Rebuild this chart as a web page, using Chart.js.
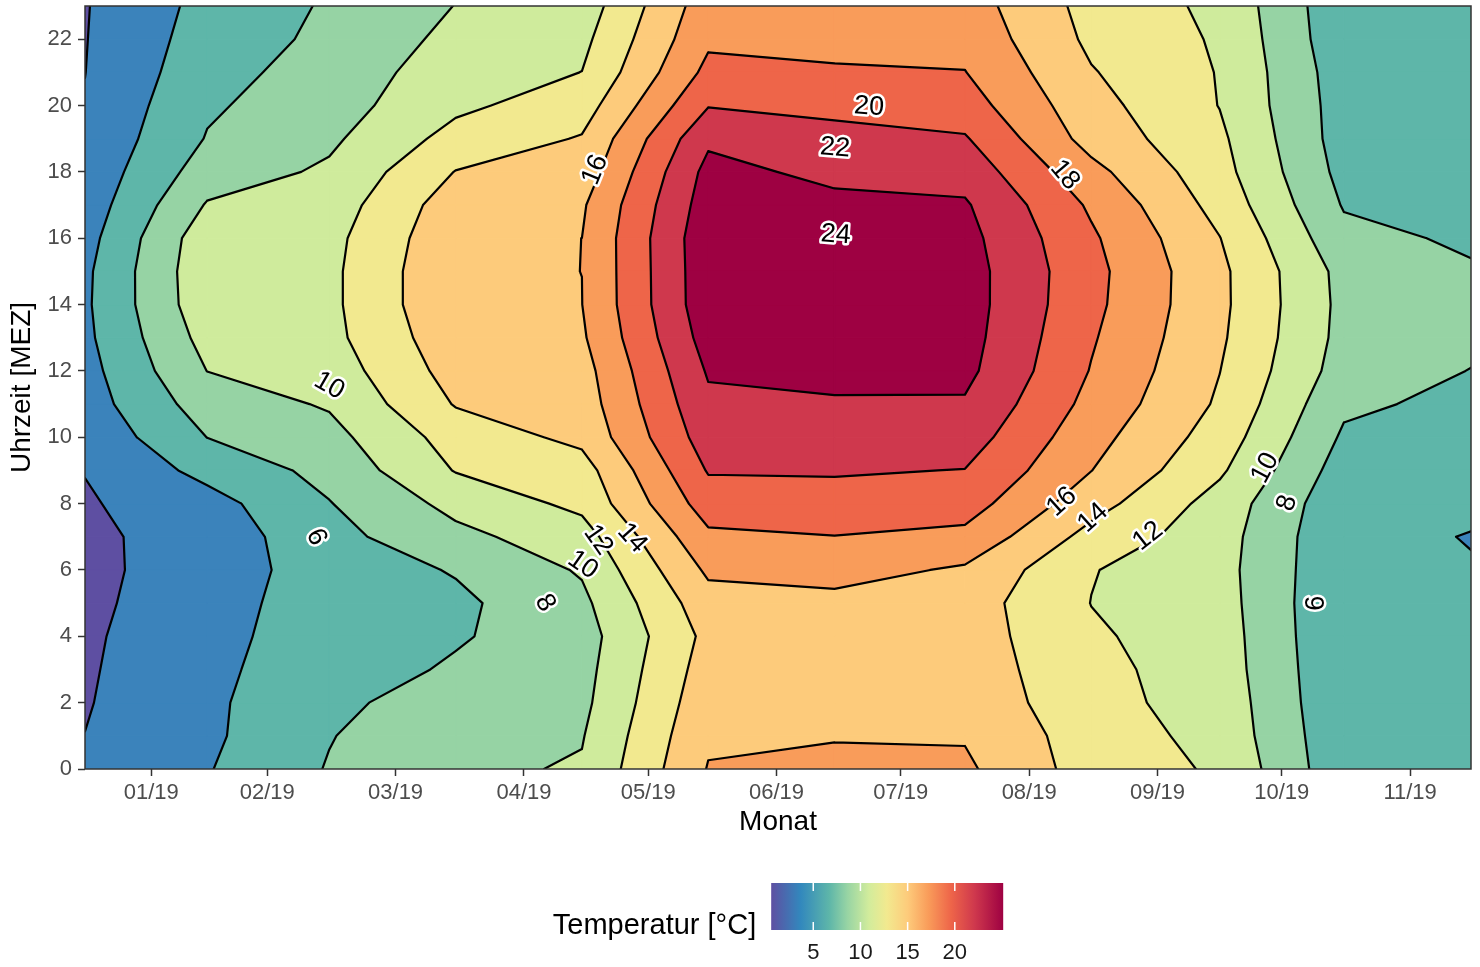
<!DOCTYPE html>
<html>
<head>
<meta charset="utf-8">
<script src="https://cdn.jsdelivr.net/npm/chart.js@4/dist/chart.umd.min.js"></script>
<style>
html,body{margin:0;padding:0;background:#ffffff;}
canvas{display:block;}
</style>
</head>
<body>
<canvas id="chart" width="1480" height="967"></canvas>
<script>
// ---------- DATA ----------
// x position of each monthly column, in days since 2019-01-01 (mid-month)
const monthDays = [-16, 13.5, 43, 73.5, 104, 134.5, 165, 196.5, 227, 258, 288, 318.7];
const hoursOfDay = [0,1,2,3,4,5,6,7,8,9,10,11,12,13,14,15,16,17,18,19,20,21,22,23];

// mean temperature (°C) per hour of day, one array per month
const tDec18 = [4.40,4.02,3.87,3.77,3.66,3.47,3.49,3.64,3.80,4.06,4.51,5.08,5.30,5.58,5.69,5.62,5.27,4.87,4.61,4.37,4.10,3.98,3.93,3.89];
const tJan19 = [5.88,5.63,5.64,5.61,5.59,5.50,5.05,4.78,5.25,6.60,8.02,8.96,10.02,10.70,11.31,11.43,11.23,10.16,8.96,8.11,7.74,7.25,6.89,6.60];
const tFeb19 = [8.13,7.91,7.54,7.00,6.69,6.62,6.85,7.36,7.92,8.60,9.36,10.20,10.92,11.44,11.55,11.55,11.41,10.93,10.31,9.64,9.12,8.89,8.44,8.22];
const tMar19 = [9.58,9.50,9.00,8.25,7.80,7.58,8.15,9.48,10.57,12.10,12.84,14.13,14.80,15.30,15.76,15.76,15.49,15.07,14.06,12.69,11.59,10.98,10.51,10.04];
const tApr19 = [10.18,9.88,9.53,9.34,9.14,9.55,10.20,11.11,12.50,13.15,14.50,14.98,15.25,15.74,15.98,16.004,16.003,15.75,14.90,14.15,13.05,12.02,11.49,10.92];
const tMay19 = [16.10,15.72,15.31,14.91,14.53,15.20,16.35,17.60,19.00,20.15,21.00,21.60,22.20,22.84,23.30,23.33,23.40,23.00,22.60,21.64,19.90,18.53,17.65,17.10];
const tJun19 = [16.40,15.90,15.40,15.10,14.90,15.40,16.80,17.96,19.20,20.19,21.00,21.80,22.54,23.00,23.30,23.40,23.30,22.50,21.50,20.74,19.40,18.26,17.30,17.00];
const tJul19 = [16.34,15.85,15.42,15.10,14.97,14.92,15.71,17.50,18.90,19.95,20.96,21.80,22.50,22.74,22.86,22.84,22.63,22.22,21.25,20.18,18.90,18.05,17.40,16.94];
const tAug19 = [13.10,13.00,12.58,12.52,12.26,11.97,12.09,13.30,14.80,16.03,16.70,17.40,17.90,18.20,18.50,18.60,18.30,17.70,16.60,15.24,14.70,14.13,13.60,13.31];
const tSep19 = [11.75,11.38,11.24,11.04,10.96,10.83,10.71,10.85,11.20,12.31,13.10,13.73,14.03,14.30,14.45,14.44,14.05,13.30,12.71,12.38,11.95,11.90,11.77,11.56];
const tOct19 = [6.55,6.46,6.29,6.24,6.14,6.12,6.29,6.30,6.54,7.06,7.71,8.36,9.11,9.39,9.47,9.37,8.56,7.85,7.38,7.09,7.09,6.94,6.62,6.52];
const tNov19 = [6.60,6.50,6.40,6.35,6.30,6.20,6.06,5.96,6.20,6.70,7.30,7.50,7.95,8.45,8.50,8.20,7.70,7.30,7.10,6.90,6.80,6.70,6.60,6.50];

const contourLevels = [4,6,8,10,12,14,16,18,20,22];
const bandColors = ['#5E4FA2','#3B83BB','#5EB6A9','#96D3A4','#CFEB9C','#F2E98F','#FDCB7B','#F99C5A','#EE6549','#CF384D','#9E0142'];

const xTickDays = [0, 28, 59, 90, 120, 151, 181, 212, 243, 273, 304];
const xTickLabels = ['01/19','02/19','03/19','04/19','05/19','06/19','07/19','08/19','09/19','10/19','11/19'];
const yTickValues = [0,2,4,6,8,10,12,14,16,18,20,22];

// contour labels: text, data position (day, hour) and rotation (deg)
const labelTexts  = ['20','22','24','16','18','10','6','8','12','10','14','16','14','12','10','8','6'];
const labelDays   = [173.3,165.1,165.3,107.2,220.6,43.0,39.8,95.1,107.9,104.2,116.1,219.9,227.4,240.7,269.0,274.3,281.5];
const labelHours  = [19.96,18.72,16.10,18.06,17.91,11.55,6.99,5.00,6.90,6.15,6.96,8.05,7.57,7.02,9.07,8.02,5.00];
const labelAngles = [4,4,4,-68,50,30,65,60,55,35,48,-42,-42,-38,-62,-72,-90];

// colour bar
const legendRange = [0.54, 25.13];
const legendTicks = [5,10,15,20];
const legendStopValues = [0.54,3.67,6.7,8.6,10.9,12.8,15.0,17.2,19.6,22.1,25.13];
const legendStopColors = ['#5E4FA2','#3288BD','#5EB6A9','#97D4A4','#D2EC9C','#F2E98F','#FDCB7B','#F99C5A','#EE6549','#CF384D','#9E0142'];

const FONT = '"Liberation Sans", Arial, Helvetica, sans-serif';

// ---------- CONTOUR HELPERS ----------
const columns = [tDec18,tJan19,tFeb19,tMar19,tApr19,tMay19,tJun19,tJul19,tAug19,tSep19,tOct19,tNov19];

function bandPolygon(c, lo, hi) {
  const out = [];
  for (let k = 0; k < 4; k++) {
    const p = c[k], q = c[(k + 1) % 4];
    if (p[2] >= lo && p[2] <= hi) out.push([p[0], p[1]]);
    const ts = [];
    for (const L of [lo, hi]) {
      if (!isFinite(L)) continue;
      if ((p[2] - L) * (q[2] - L) < 0) ts.push((L - p[2]) / (q[2] - p[2]));
    }
    ts.sort((a, b) => a - b);
    for (const t of ts) out.push([p[0] + t * (q[0] - p[0]), p[1] + t * (q[1] - p[1])]);
  }
  return out;
}

function levelSegments(c, L) {
  const pts = [];
  for (let k = 0; k < 4; k++) {
    const p = c[k], q = c[(k + 1) % 4];
    if ((p[2] - L) * (q[2] - L) < 0) {
      const t = (L - p[2]) / (q[2] - p[2]);
      pts.push([p[0] + t * (q[0] - p[0]), p[1] + t * (q[1] - p[1])]);
    }
  }
  if (pts.length === 2) return [[pts[0], pts[1]]];
  if (pts.length === 4) {
    const center = (c[0][2] + c[1][2] + c[2][2] + c[3][2]) / 4;
    if ((c[0][2] > L) === (center > L)) return [[pts[0], pts[1]], [pts[2], pts[3]]];
    return [[pts[3], pts[0]], [pts[1], pts[2]]];
  }
  return [];
}

const contourPlugin = {
  id: 'contourFill',
  beforeDatasetsDraw(chart) {
    const { ctx, chartArea: a, scales } = chart;
    const xs = scales.x, ys = scales.y;
    const px = monthDays.map(d => xs.getPixelForValue(d));
    const py = hoursOfDay.map(h => ys.getPixelForValue(h));
    const bounds = [-Infinity, ...contourLevels, Infinity];
    ctx.save();
    ctx.beginPath();
    ctx.rect(a.left, a.top, a.right - a.left, a.bottom - a.top);
    ctx.clip();
    ctx.lineJoin = 'round';
    const cells = [];
    for (let i = 0; i < px.length - 1; i++) {
      for (let j = 0; j < py.length - 1; j++) {
        cells.push([
          [px[i], py[j], columns[i][j]],
          [px[i + 1], py[j], columns[i + 1][j]],
          [px[i + 1], py[j + 1], columns[i + 1][j + 1]],
          [px[i], py[j + 1], columns[i][j + 1]]
        ]);
      }
    }
    for (const c of cells) {
      for (let b = 0; b < bandColors.length; b++) {
        const poly = bandPolygon(c, bounds[b], bounds[b + 1]);
        if (poly.length < 3) continue;
        ctx.beginPath();
        ctx.moveTo(poly[0][0], poly[0][1]);
        for (let k = 1; k < poly.length; k++) ctx.lineTo(poly[k][0], poly[k][1]);
        ctx.closePath();
        ctx.fillStyle = bandColors[b];
        ctx.strokeStyle = bandColors[b];
        ctx.lineWidth = 1.2;
        ctx.fill();
        ctx.stroke();
      }
    }
    ctx.strokeStyle = '#000000';
    ctx.lineWidth = 2.2;
    ctx.lineCap = 'round';
    ctx.beginPath();
    for (const c of cells) {
      for (const L of contourLevels) {
        for (const s of levelSegments(c, L)) {
          ctx.moveTo(s[0][0], s[0][1]);
          ctx.lineTo(s[1][0], s[1][1]);
        }
      }
    }
    ctx.stroke();
    // contour labels
    ctx.font = '27px ' + FONT;
    ctx.textAlign = 'center';
    ctx.textBaseline = 'middle';
    for (let k = 0; k < labelTexts.length; k++) {
      const lx = xs.getPixelForValue(labelDays[k]);
      const ly = ys.getPixelForValue(labelHours[k]);
      ctx.save();
      ctx.translate(lx, ly);
      ctx.rotate(labelAngles[k] * Math.PI / 180);
      ctx.lineWidth = 5;
      ctx.strokeStyle = '#ffffff';
      ctx.strokeText(labelTexts[k], 0, 0);
      ctx.fillStyle = '#000000';
      ctx.fillText(labelTexts[k], 0, 0);
      ctx.restore();
    }
    ctx.restore();
  },
  afterDraw(chart) {
    const { ctx, chartArea: a } = chart;
    ctx.save();
    // panel border
    ctx.strokeStyle = '#333333';
    ctx.lineWidth = 1.5;
    ctx.strokeRect(a.left, a.top, a.right - a.left, a.bottom - a.top);
    // colour bar legend
    const title = 'Temperatur [°C]';
    ctx.font = '29px ' + FONT;
    const titleW = ctx.measureText(title).width;
    const barW = 232, barH = 47, gap = 15;
    const total = titleW + gap + barW;
    const cx = (a.left + a.right) / 2;
    const x0 = cx - total / 2;
    const barX = x0 + titleW + gap;
    const barY = a.bottom + 114;
    ctx.fillStyle = '#000000';
    ctx.textAlign = 'left';
    ctx.textBaseline = 'middle';
    ctx.fillText(title, x0, barY + 43);
    const span = legendRange[1] - legendRange[0];
    const grad = ctx.createLinearGradient(barX, 0, barX + barW, 0);
    for (let k = 0; k < legendStopValues.length; k++) {
      grad.addColorStop(Math.min(1, Math.max(0, (legendStopValues[k] - legendRange[0]) / span)), legendStopColors[k]);
    }
    ctx.fillStyle = grad;
    ctx.fillRect(barX, barY, barW, barH);
    ctx.strokeStyle = '#ffffff';
    ctx.lineWidth = 1.5;
    ctx.font = '22px ' + FONT;
    ctx.textAlign = 'center';
    for (const v of legendTicks) {
      const tx = barX + (v - legendRange[0]) / span * barW;
      ctx.beginPath();
      ctx.moveTo(tx, barY); ctx.lineTo(tx, barY + 8);
      ctx.moveTo(tx, barY + barH - 8); ctx.lineTo(tx, barY + barH);
      ctx.stroke();
      ctx.fillStyle = '#1A1A1A';
      ctx.fillText(String(v), tx, barY + barH + 23);
    }
    ctx.restore();
  }
};

new Chart(document.getElementById('chart'), {
  type: 'scatter',
  data: { datasets: [{ data: [], pointRadius: 0 }] },
  options: {
    responsive: false,
    animation: false,
    layout: { padding: { left: 0, top: 6, right: 9, bottom: 128 } },
    plugins: { legend: { display: false }, tooltip: { enabled: false } },
    scales: {
      x: {
        type: 'linear',
        min: monthDays[0],
        max: monthDays[monthDays.length - 1],
        afterBuildTicks: s => { s.ticks = xTickDays.map(v => ({ value: v })); },
        afterFit: s => { s.height = 70; s.paddingLeft = 0; s.paddingRight = 0; },
        ticks: {
          autoSkip: false, maxRotation: 0, minRotation: 0, padding: 4,
          color: '#4D4D4D', font: { size: 22, family: FONT },
          callback: v => { const i = xTickDays.indexOf(v); return i >= 0 ? xTickLabels[i] : ''; }
        },
        grid: { drawOnChartArea: false, drawTicks: true, tickLength: 7, color: '#333333', tickWidth: 1.5 },
        border: { display: false },
        title: { display: true, text: 'Monat', color: '#000000', font: { size: 28, family: FONT }, padding: { top: 0, bottom: 0 } }
      },
      y: {
        type: 'linear',
        min: 0,
        max: 23,
        afterBuildTicks: s => { s.ticks = yTickValues.map(v => ({ value: v })); },
        afterFit: s => { s.width = 85; s.paddingTop = 0; s.paddingBottom = 0; },
        ticks: { padding: 6, color: '#4D4D4D', font: { size: 22, family: FONT } },
        grid: { drawOnChartArea: false, drawTicks: true, tickLength: 7, color: '#333333', tickWidth: 1.5 },
        border: { display: false },
        title: { display: true, text: 'Uhrzeit [MEZ]', color: '#000000', font: { size: 28, family: FONT }, padding: { top: 5, bottom: 0 } }
      }
    }
  },
  plugins: [contourPlugin]
});
</script>
</body>
</html>
